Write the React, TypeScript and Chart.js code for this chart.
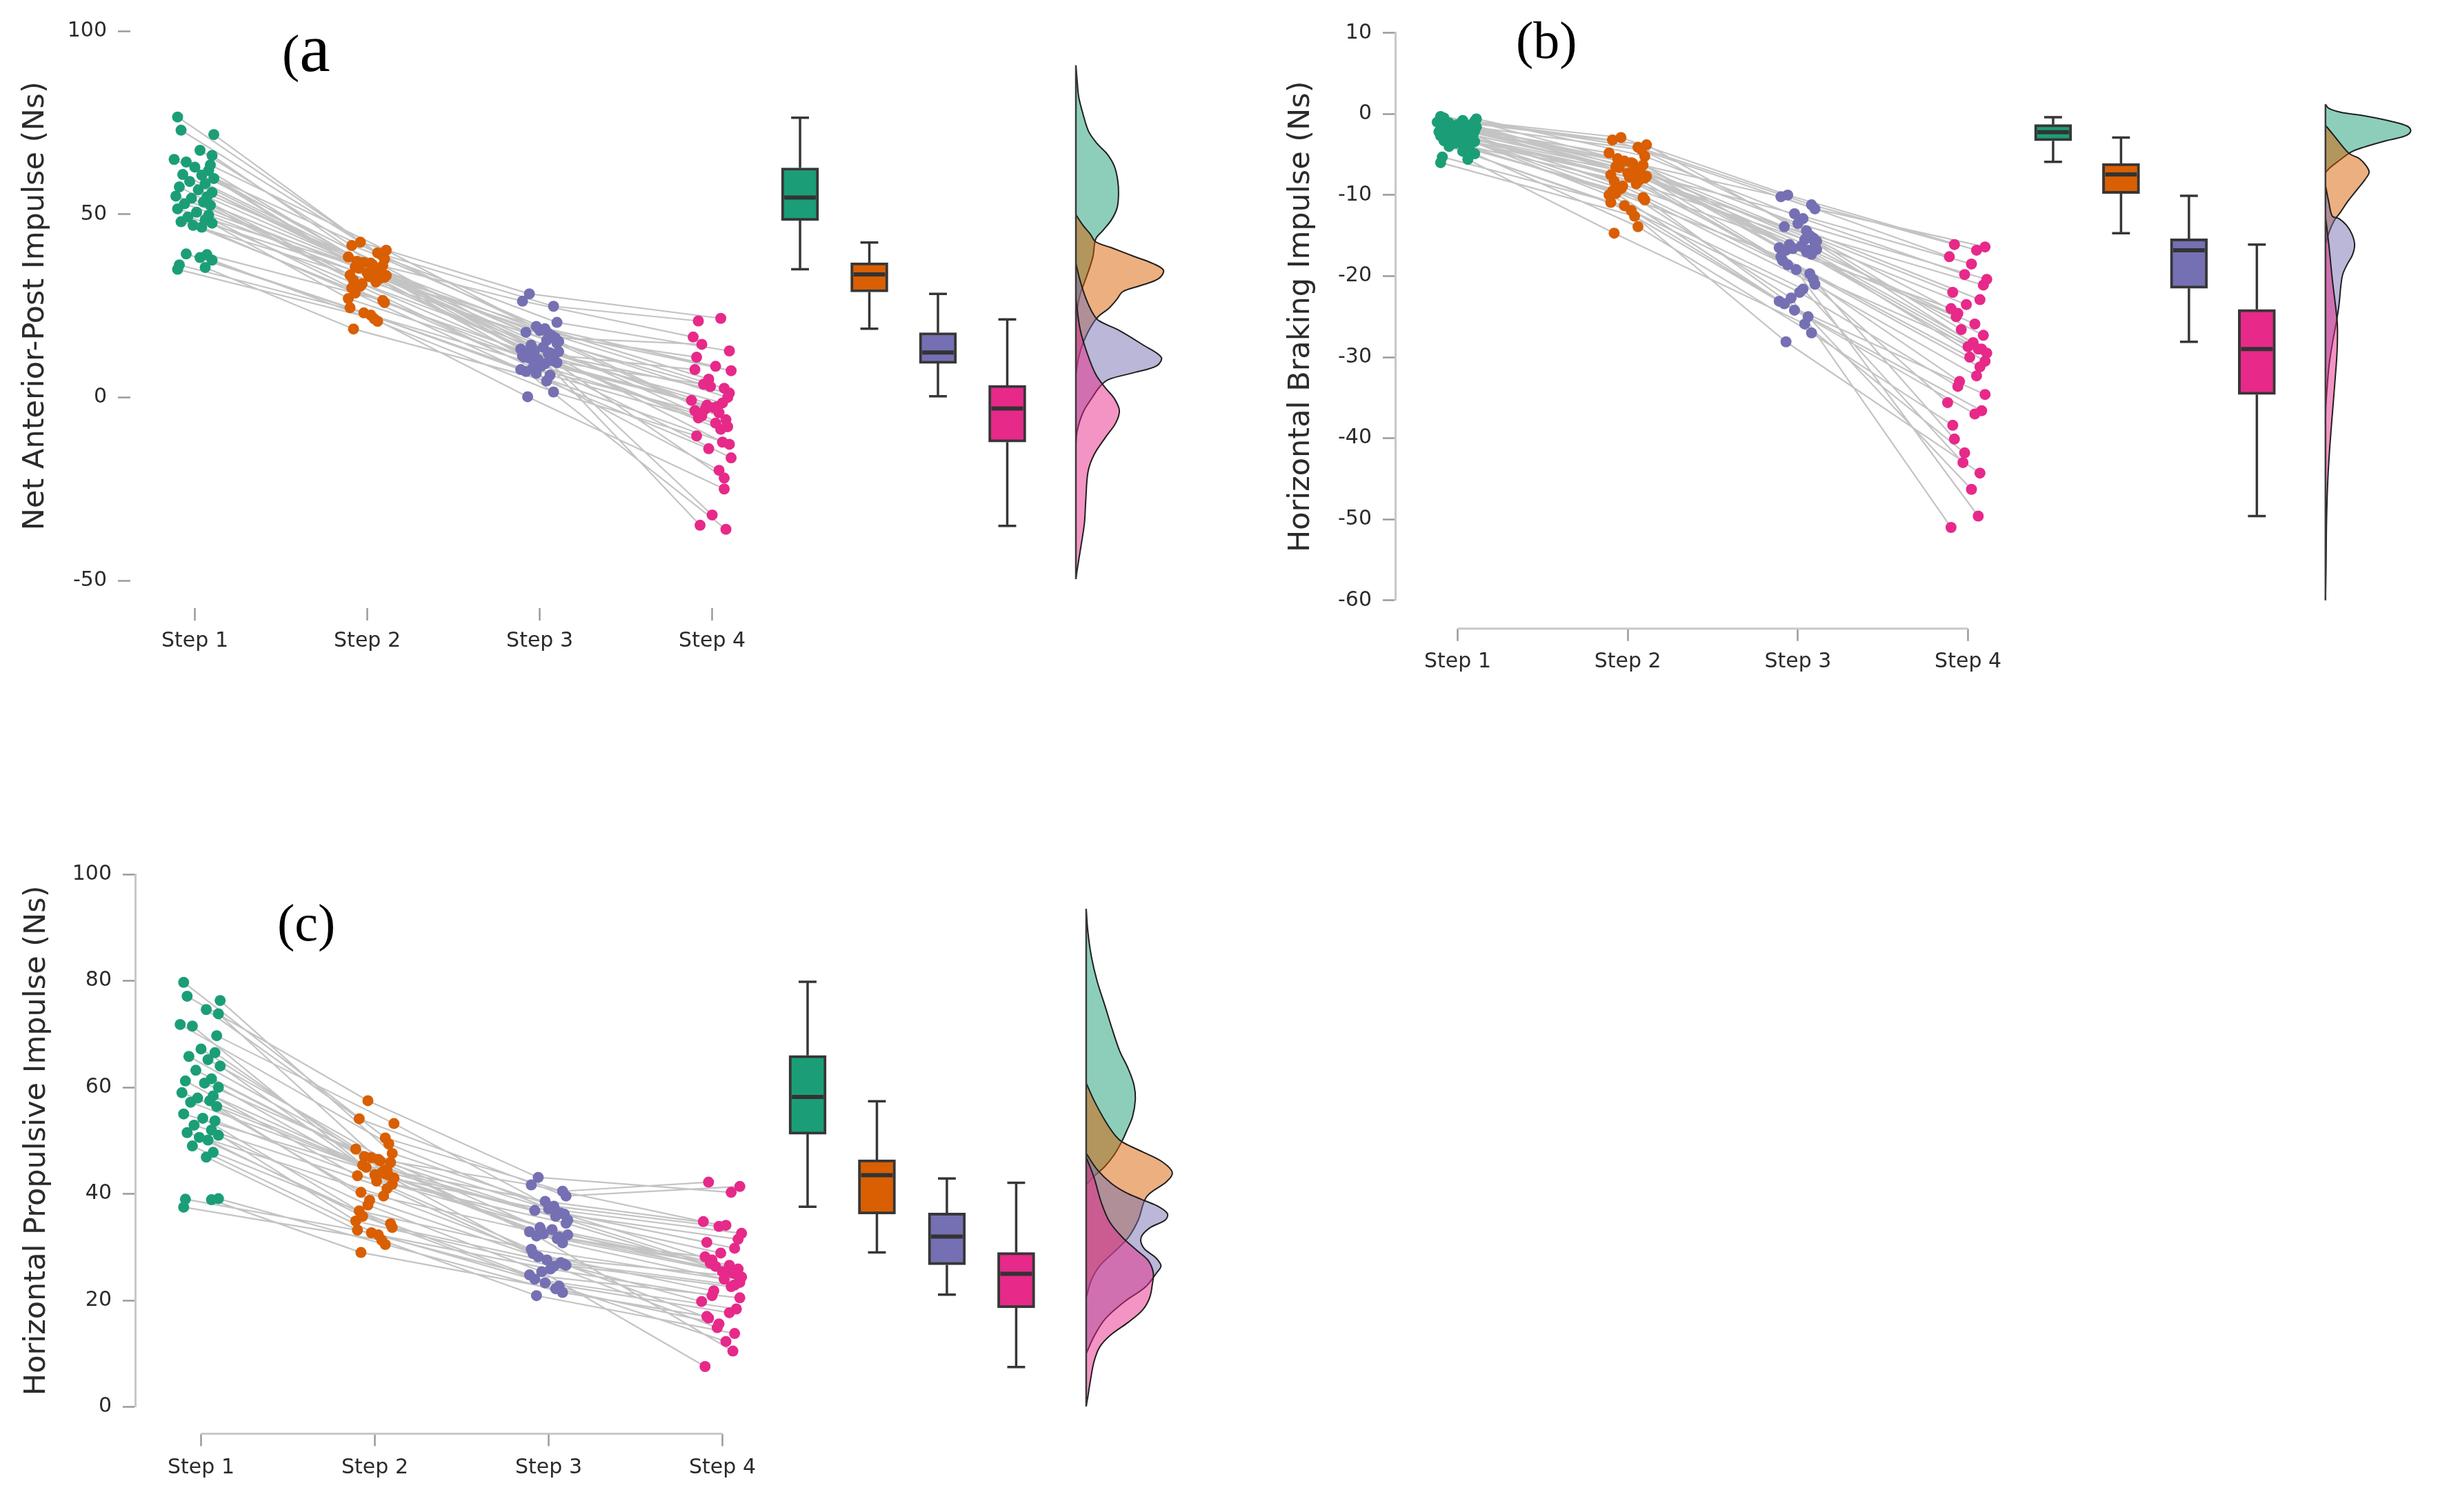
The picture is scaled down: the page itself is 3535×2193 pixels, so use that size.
import React, { useEffect, useRef } from "react";
import { Chart, registerables } from "chart.js";

Chart.register(...registerables);

// ---------------- data ----------------
const STEP_LABELS = ["Step 1", "Step 2", "Step 3", "Step 4"];

// horizontal jitter of each subject's point (in step units)
const JIT1 = [-0.1, -0.08, 0.11, 0.03, 0.1, -0.12, -0.05, 0.09, 0.0, 0.08, -0.07, 0.04, 0.11, -0.03, 0.06, -0.09, 0.02, 0.1, -0.11, 0.07, -0.02, 0.05, -0.06, 0.09, -0.1, 0.01, 0.08, -0.04, 0.06, -0.08, 0.1, -0.01, 0.04, -0.05, 0.07, 0.03, 0.1, -0.09, 0.06, -0.1];
const JIT2 = [0.06, -0.04, 0.1, -0.09, 0.02, 0.08, -0.07, 0.11, -0.02, 0.05, -0.11, 0.09, 0.0, -0.06, 0.07, -0.1, 0.03, 0.1, -0.05, 0.06, -0.08, 0.04, 0.11, -0.03, 0.08, -0.09, 0.01, 0.07, -0.11, 0.05, -0.04, 0.1, -0.07, 0.02, 0.09, -0.1, 0.06, -0.02, -0.08, 0.04];
const JIT3 = [0.08, -0.06, 0.03, 0.1, -0.1, 0.05, -0.02, 0.09, -0.08, 0.11, 0.0, -0.05, 0.07, -0.11, 0.04, 0.1, -0.07, 0.02, 0.08, -0.03, 0.06, -0.09, 0.11, -0.01, 0.05, -0.1, 0.09, -0.06, 0.03, 0.07, -0.04, 0.1, -0.08, 0.01, 0.06, -0.11, 0.08, -0.02, 0.04, -0.07];
const JIT4 = [-0.08, 0.05, -0.02, 0.1, -0.11, 0.07, 0.02, -0.06, 0.09, -0.04, 0.11, 0.0, -0.09, 0.06, -0.01, 0.08, -0.1, 0.04, 0.1, -0.07, 0.03, -0.05, 0.09, -0.12, 0.06, 0.01, -0.08, 0.11, -0.03, 0.07, -0.1, 0.05, 0.08, -0.06, 0.02, 0.1, -0.09, 0.04, -0.02, 0.07];

// (a) Net Anterior-Post Impulse
const A_STEP1 = [76.6, 73.0, 71.8, 67.5, 66.1, 65.0, 64.3, 63.5, 62.9, 62.0, 60.9, 60.7, 59.8, 59.0, 58.4, 57.5, 56.7, 56.0, 55.0, 54.8, 54.4, 53.4, 52.9, 52.5, 51.5, 50.6, 49.8, 49.3, 48.5, 48.0, 47.6, 47.0, 46.5, 39.2, 39.0, 38.2, 37.5, 36.2, 35.5, 35.0];
const A_STEP2 = [39.5, 42.4, 37.8, 41.5, 36.7, 39.0, 35.6, 40.2, 36.9, 34.7, 38.4, 36.0, 34.0, 37.2, 35.0, 33.4, 36.3, 32.8, 35.3, 34.2, 32.0, 34.5, 33.3, 31.0, 33.8, 29.9, 33.0, 32.4, 27.0, 31.5, 30.4, 25.9, 28.5, 22.5, 26.5, 24.5, 20.8, 23.1, 18.7, 21.5];
const A_STEP3 = [24.9, 28.3, 18.8, 20.5, 26.3, 17.5, 19.4, 16.3, 17.8, 15.3, 18.3, 14.3, 16.9, 13.2, 15.6, 14.8, 12.4, 13.7, 11.7, 12.8, 12.2, 11.0, 12.5, 10.4, 11.9, 11.3, 9.8, 10.7, 9.2, 10.1, 8.1, 9.5, 7.1, 8.6, 6.1, 7.6, 1.5, 6.6, 4.5, 0.2];
const A_STEP4 = [20.9, 21.6, 5.0, 12.7, 16.5, 2.5, 8.5, 14.5, 0.0, -3.2, 7.3, -32.1, 11.0, -1.5, 3.0, -6.1, 7.6, -4.2, 1.2, -34.9, -2.5, 3.6, -8.0, -0.8, -12.2, -2.8, -5.6, -16.5, -2.1, -22.0, -3.6, -8.7, -36.0, -5.0, -7.0, -12.8, -10.5, -19.9, -14.0, -25.0];
const A_BOX_MAX = [76.4, 42.3, 28.3, 21.3];
const A_BOX_Q3 = [62.7, 36.8, 17.7, 3.3];
const A_BOX_MED = [54.6, 33.6, 12.3, -3.0];
const A_BOX_Q1 = [48.3, 28.8, 9.3, -12.2];
const A_BOX_MIN = [35.0, 18.8, 0.3, -35.1];
// density curves: [value, density width]
const A_DENS_1 = [[90.7, 0], [85.9, 2.1], [82.1, 4.1], [77.4, 10.4], [72.6, 18.7], [69.3, 31.1], [66.5, 45.6], [63.2, 56], [59.4, 60.9], [55.6, 62.2], [51.8, 60.1], [48.5, 51.8], [45.6, 39.4], [43.3, 29], [38.5, 24.9], [34.7, 18.7], [31.4, 12.4], [28.1, 6.2], [24.3, 2.1], [20.5, 0]];
const A_DENS_2 = [[49.9, 0], [47.0, 10.4], [44.7, 20.7], [42.5, 29], [40.9, 51.8], [38.5, 85], [36.6, 112], [34.7, 127.7], [32.4, 120.2], [30.5, 93.3], [28.9, 68.4], [26.7, 59.3], [24.3, 47.7], [22.2, 33.2], [19.6, 22.8], [15.8, 12.4], [11.0, 4.1], [6.3, 0]];
const A_DENS_3 = [[36.6, 0], [31.9, 6.2], [27.1, 14.5], [22.9, 24.9], [21.0, 33.2], [18.2, 64.2], [14.4, 97.4], [11.0, 124.4], [8.7, 118.1], [6.8, 85], [4.9, 47.7], [3.0, 35.2], [-0.3, 22.8], [-4.1, 10.4], [-8.9, 2.1], [-12.7, 0]];
const A_DENS_4 = [[27.1, 0], [18.6, 6.2], [12.0, 16.6], [6.3, 29], [2.5, 43.5], [-0.3, 56], [-3.6, 63.4], [-7.0, 58], [-10.8, 43.5], [-15.5, 26.9], [-20.2, 17.8], [-27.8, 14.5], [-34.4, 12.4], [-41.1, 7], [-46.8, 2.1], [-49.6, 0]];

// (b) Horizontal Braking Impulse
const B_STEP1 = [-0.3, -0.5, -0.6, -0.8, -0.9, -1.0, -1.1, -1.2, -1.3, -1.3, -1.4, -1.5, -1.6, -1.7, -1.8, -1.9, -2.0, -2.1, -2.2, -2.2, -2.3, -2.4, -2.5, -2.6, -2.7, -2.8, -2.9, -3.0, -3.2, -3.3, -3.4, -3.6, -3.8, -4.0, -4.3, -4.6, -4.9, -5.3, -5.6, -6.0];
const B_STEP2 = [-4.1, -2.9, -5.2, -3.2, -6.0, -4.4, -6.5, -3.8, -5.8, -6.9, -4.8, -6.3, -7.3, -5.5, -6.8, -7.5, -6.1, -7.9, -6.6, -7.2, -8.3, -7.0, -7.7, -8.9, -7.4, -9.5, -7.8, -8.1, -10.0, -8.6, -9.2, -10.6, -9.8, -11.9, -10.3, -10.9, -13.9, -11.3, -14.7, -12.6];
const B_STEP3 = [-11.2, -10.0, -12.9, -11.7, -10.2, -14.4, -12.3, -15.3, -13.9, -15.7, -13.5, -16.1, -15.0, -16.5, -15.5, -15.9, -16.8, -16.3, -17.3, -16.6, -16.8, -18.1, -16.7, -19.2, -17.0, -17.6, -20.4, -18.6, -21.6, -19.7, -22.7, -21.0, -23.4, -22.0, -25.0, -23.1, -27.0, -24.2, -25.9, -28.1];
const B_STEP4 = [-16.1, -16.8, -19.8, -16.4, -17.6, -22.9, -18.5, -24.6, -21.1, -26.6, -20.4, -28.7, -22.0, -49.6, -23.5, -29.0, -24.0, -25.9, -30.5, -25.0, -28.2, -33.0, -27.3, -35.6, -29.0, -30.0, -40.1, -29.5, -43.0, -31.2, -51.0, -32.3, -36.6, -33.6, -46.3, -34.6, -38.4, -37.0, -41.8, -44.3];
const B_BOX_MAX = [-0.4, -2.9, -10.1, -16.1];
const B_BOX_Q3 = [-1.3, -6.1, -15.4, -24.1];
const B_BOX_MED = [-2.25, -7.45, -16.8, -29.0];
const B_BOX_Q1 = [-3.3, -9.8, -21.5, -34.6];
const B_BOX_MIN = [-5.9, -14.7, -28.1, -49.6];
const B_DENS_1 = [[1.2, 0], [0.7, 4.9], [0.2, 23.1], [-0.2, 55.5], [-0.9, 96], [-1.5, 119.5], [-2.1, 124.3], [-2.7, 116.2], [-3.3, 87.9], [-4.1, 55.5], [-4.7, 37.3], [-5.8, 19], [-6.6, 6.9], [-7.2, 0]];
const B_DENS_2 = [[-1.4, 0], [-2.5, 10.9], [-3.8, 23.1], [-4.9, 35.2], [-5.5, 49.4], [-6.4, 59.5], [-7.2, 63.6], [-8.1, 57.5], [-9.4, 45.4], [-10.7, 33.2], [-12.2, 21.1], [-13.1, 13], [-14.4, 6.1], [-16.1, 0]];
const B_DENS_3 = [[-8.8, 0], [-10.9, 4.9], [-12.6, 10.1], [-12.9, 19.8], [-13.7, 30.4], [-14.8, 38.5], [-16.1, 42.5], [-17.4, 39.3], [-18.5, 32], [-19.8, 25.1], [-21.3, 22.3], [-23.5, 19.8], [-25.7, 15.8], [-28.3, 10.1], [-31.3, 4.9], [-35.7, 0.8], [-38.1, 0]];
const B_DENS_4 = [[-12.7, 0], [-16.1, 4.9], [-20.5, 10.1], [-23.9, 15], [-26.1, 17.4], [-29.2, 17], [-32.6, 14.2], [-36.1, 10.9], [-40.4, 6.9], [-44.8, 3.6], [-50.0, 1.6], [-56.1, 0.8], [-60.0, 0]];

// (c) Horizontal Propulsive Impulse
const C_STEP1 = [79.7, 77.1, 76.3, 74.6, 73.8, 71.8, 71.5, 69.7, 67.2, 66.5, 65.8, 65.2, 64.0, 63.2, 61.6, 61.2, 60.8, 60.0, 59.0, 58.4, 58.0, 57.5, 57.2, 56.4, 55.0, 54.2, 53.7, 52.9, 52.0, 51.5, 51.0, 50.6, 50.1, 49.0, 47.8, 46.9, 39.1, 39.0, 38.9, 37.5];
const C_STEP2 = [50.5, 57.5, 47.6, 54.1, 46.5, 49.4, 45.4, 53.2, 46.8, 44.3, 48.4, 45.9, 43.6, 47.0, 44.6, 43.4, 46.2, 41.8, 45.0, 43.8, 40.3, 44.0, 43.0, 38.8, 43.5, 36.8, 42.4, 41.0, 34.9, 39.6, 37.9, 33.7, 35.8, 32.3, 34.4, 33.2, 30.5, 32.7, 29.0, 31.3];
const C_STEP3 = [40.5, 43.1, 37.7, 39.6, 41.7, 36.6, 38.6, 36.2, 36.9, 35.1, 37.2, 33.7, 36.4, 32.9, 35.8, 34.5, 32.1, 33.3, 30.8, 32.5, 31.9, 28.8, 32.3, 27.6, 31.6, 29.6, 26.8, 28.2, 26.4, 27.1, 25.4, 26.6, 24.0, 25.9, 22.7, 24.8, 21.5, 23.3, 22.2, 20.9];
const C_STEP4 = [42.2, 40.3, 33.9, 41.4, 34.8, 29.8, 34.1, 27.6, 31.5, 26.4, 32.6, 25.4, 30.9, 10.5, 28.9, 24.9, 28.2, 26.6, 23.4, 27.0, 25.6, 21.8, 25.9, 19.8, 25.1, 24.0, 16.7, 24.4, 14.9, 22.9, 7.6, 22.6, 18.4, 20.9, 12.3, 20.5, 17.0, 17.7, 15.6, 13.8];
const C_BOX_MAX = [79.8, 57.4, 42.9, 42.1];
const C_BOX_Q3 = [66.0, 46.4, 36.4, 29.0];
const C_BOX_MED = [58.2, 43.5, 32.0, 25.0];
const C_BOX_Q1 = [51.2, 36.2, 26.7, 18.6];
const C_BOX_MIN = [37.6, 29.0, 21.1, 7.5];
const C_DENS_1 = [[93.5, 0], [89.2, 2.5], [84.6, 7.5], [80.0, 15.8], [75.3, 27.4], [70.7, 38.5], [66.8, 48.9], [63.5, 61.3], [60.5, 69.6], [57.8, 71.7], [54.5, 67.6], [51.9, 59.3], [49.9, 52.2], [47.3, 40.6], [45.0, 26.1], [43.3, 11.6], [41.7, 0]];
const C_DENS_2 = [[60.8, 0], [57.5, 11.6], [53.6, 28.2], [50.9, 42.7], [49.7, 53.1], [47.9, 82.1], [46.0, 111.1], [44.0, 125.6], [42.3, 117.3], [39.5, 88.3], [35.1, 75.9], [31.8, 61.3], [29.1, 40.6], [26.5, 19.9], [23.8, 7.5], [20.5, 0]];
const C_DENS_3 = [[47.6, 0], [44.6, 15.8], [42.0, 36.5], [40.3, 57.2], [39.0, 80], [37.8, 102.8], [36.3, 118.5], [35.1, 115.2], [33.6, 92.4], [31.8, 80], [29.8, 84.1], [28.1, 100.7], [26.5, 109], [25.2, 102.8], [22.5, 86.2], [19.9, 57.2], [16.6, 28.2], [13.3, 11.6], [10.0, 0]];
const C_DENS_4 = [[46.9, 0], [43.0, 11.6], [38.4, 22], [34.7, 34.4], [31.8, 53.1], [29.4, 73.8], [27.5, 90.4], [25.2, 97.8], [23.2, 96.6], [20.5, 92.4], [18.2, 82.1], [15.9, 61.3], [13.6, 36.5], [11.3, 19.9], [8.6, 11.6], [5.3, 6.6], [2.0, 2.5], [0.1, 0]];

// ---------------- styles ----------------
const COLORS = ["#1b9e77", "#d95f02", "#7570b3", "#e7298a"];
const FILLS = ["rgba(27,158,119,0.5)", "rgba(217,95,2,0.5)", "rgba(117,112,179,0.5)", "rgba(231,41,138,0.5)"];
const FONT = "'DejaVu Sans', 'Verdana', sans-serif";
const TEXT = "#2b2b2b";
const TICK_COLOR = "#9a9a9a";
const AXIS_COLOR = "#c8c8c8";

type PanelDef = {
  key: string;
  left: number; top: number; width: number; height: number;
  chartLeft: number; chartTop: number; chartBottom: number;
  yMin: number; yMax: number; yTicks: number[];
  title: string; titleCenterX: number;
  step1Px: number; stepPx: number; boxPx: number[]; densBasePx: number;
  axisGap: number; axisLines: boolean; xLabelPad: number;
  steps: number[][];
  boxMin: number[]; boxQ1: number[]; boxMed: number[]; boxQ3: number[]; boxMax: number[];
  dens: number[][][];
};

const PANELS: PanelDef[] = [
  {
    key: "a", left: 0, top: 0, width: 1760, height: 1000,
    chartLeft: 189, chartTop: 45.4, chartBottom: 842,
    yMin: -50, yMax: 100, yTicks: [100, 50, 0, -50],
    title: "Net Anterior-Post Impulse (Ns)", titleCenterX: 52,
    step1Px: 283, stepPx: 251.3, boxPx: [1165, 1266, 1366, 1467], densBasePx: 1567,
    axisGap: 40, axisLines: false, xLabelPad: 12,
    steps: [A_STEP1, A_STEP2, A_STEP3, A_STEP4],
    boxMin: A_BOX_MIN, boxQ1: A_BOX_Q1, boxMed: A_BOX_MED, boxQ3: A_BOX_Q3, boxMax: A_BOX_MAX,
    dens: [A_DENS_1, A_DENS_2, A_DENS_3, A_DENS_4],
  },
  {
    key: "b", left: 1840, top: 0, width: 1695, height: 1000,
    chartLeft: 2023, chartTop: 47.8, chartBottom: 870.8,
    yMin: -60, yMax: 10, yTicks: [10, 0, -10, -20, -30, -40, -50, -60],
    title: "Horizontal Braking Impulse (Ns)", titleCenterX: 1887,
    step1Px: 2114, stepPx: 248, boxPx: [2982, 3081, 3180, 3279], densBasePx: 3379,
    axisGap: 41, axisLines: true, xLabelPad: 12,
    steps: [B_STEP1, B_STEP2, B_STEP3, B_STEP4],
    boxMin: B_BOX_MIN, boxQ1: B_BOX_Q1, boxMed: B_BOX_MED, boxQ3: B_BOX_Q3, boxMax: B_BOX_MAX,
    dens: [B_DENS_1, B_DENS_2, B_DENS_3, B_DENS_4],
  },
  {
    key: "c", left: 0, top: 1230, width: 1760, height: 963,
    chartLeft: 196, chartTop: 1268, chartBottom: 2040.7,
    yMin: 0, yMax: 100, yTicks: [100, 80, 60, 40, 20, 0],
    title: "Horizontal Propulsive Impulse (Ns)", titleCenterX: 53.6,
    step1Px: 292, stepPx: 253.3, boxPx: [1176, 1277, 1379, 1480], densBasePx: 1582,
    axisGap: 38.7, axisLines: true, xLabelPad: 14,
    steps: [C_STEP1, C_STEP2, C_STEP3, C_STEP4],
    boxMin: C_BOX_MIN, boxQ1: C_BOX_Q1, boxMed: C_BOX_MED, boxQ3: C_BOX_Q3, boxMax: C_BOX_MAX,
    dens: [C_DENS_1, C_DENS_2, C_DENS_3, C_DENS_4],
  },
];

// panel letters: opening text, large letter, closing text
const PANEL_LABELS = [
  { open: "(", letter: "a", close: "", letterSize: 100, left: 409, top: 39 },
  { open: "(", letter: "b", close: ")", letterSize: 76, left: 2198, top: 19.5 },
  { open: "(", letter: "c", close: ")", letterSize: 76, left: 402, top: 1299.5 },
];

// x-axis "range frame" line drawn from Step 1 to Step 4
const rangeFramePlugin = {
  id: "rangeFrame",
  afterDraw(chart: any, _args: any, opts: any) {
    if (!opts || !opts.show) return;
    const { ctx, chartArea, scales } = chart;
    const x = scales.x;
    const y = chartArea.bottom + opts.gap;
    ctx.save();
    ctx.strokeStyle = opts.color;
    ctx.lineWidth = opts.width;
    ctx.beginPath();
    ctx.moveTo(x.getPixelForValue(1), y);
    ctx.lineTo(x.getPixelForValue(4), y);
    ctx.stroke();
    ctx.restore();
  },
};

function makeConfig(p: PanelDef): any {
  const xv = (px: number) => 1 + (px - p.step1Px) / p.stepPx;
  const xMin = xv(p.chartLeft);
  const xMax = xv(p.left + p.width);
  const boxX = p.boxPx.map(xv);
  const medHalf = 23 / p.stepPx;
  const capHalf = 13 / p.stepPx;
  const densBase = xv(p.densBasePx);
  const jit = [JIT1, JIT2, JIT3, JIT4];
  const n = p.steps[0].length;

  const datasets: any[] = [];

  // subject lines
  const lineData: any[] = [];
  for (let i = 0; i < n; i++) {
    for (let s = 0; s < 4; s++) lineData.push({ x: s + 1 + jit[s][i], y: p.steps[s][i] });
    lineData.push({ x: 4, y: null });
  }
  datasets.push({
    type: "line", data: lineData, borderColor: "#c4c4c4", borderWidth: 2.2,
    pointRadius: 0, spanGaps: false, fill: false, order: 10,
  });

  // points
  p.steps.forEach((vals, s) => {
    datasets.push({
      type: "scatter", label: STEP_LABELS[s],
      data: vals.map((v, i) => ({ x: s + 1 + jit[s][i], y: v })),
      backgroundColor: COLORS[s], borderColor: COLORS[s], pointRadius: 8, pointBorderWidth: 0, order: 0,
    });
  });

  // whiskers
  const wData: any[] = [];
  boxX.forEach((bx, k) => {
    wData.push({ x: bx, y: p.boxQ3[k] }, { x: bx, y: p.boxMax[k] }, { x: bx, y: null });
    wData.push({ x: bx - capHalf, y: p.boxMax[k] }, { x: bx + capHalf, y: p.boxMax[k] }, { x: bx, y: null });
    wData.push({ x: bx, y: p.boxQ1[k] }, { x: bx, y: p.boxMin[k] }, { x: bx, y: null });
    wData.push({ x: bx - capHalf, y: p.boxMin[k] }, { x: bx + capHalf, y: p.boxMin[k] }, { x: bx, y: null });
  });
  datasets.push({
    type: "line", data: wData, borderColor: "#363636", borderWidth: 3.5,
    pointRadius: 0, spanGaps: false, fill: false, order: 3,
  });

  // boxes
  datasets.push({
    type: "bar",
    data: boxX.map((bx, k) => ({ x: bx, y: [p.boxQ1[k], p.boxQ3[k]] })),
    backgroundColor: COLORS, borderColor: "#363636", borderWidth: 4, borderSkipped: false,
    barThickness: 54, order: 2,
  });

  // medians
  const mData: any[] = [];
  boxX.forEach((bx, k) => {
    mData.push({ x: bx - medHalf, y: p.boxMed[k] }, { x: bx + medHalf, y: p.boxMed[k] }, { x: bx, y: null });
  });
  datasets.push({
    type: "line", data: mData, borderColor: "#333333", borderWidth: 6,
    pointRadius: 0, spanGaps: false, fill: false, order: 1,
  });

  // densities (half violins)
  p.dens.forEach((d, k) => {
    datasets.push({
      type: "line", indexAxis: "y",
      data: d.map(([v, w]) => ({ x: densBase + w / p.stepPx, y: v })),
      fill: "shape", backgroundColor: FILLS[k], borderColor: "#1f1f1f", borderWidth: 2,
      pointRadius: 0, tension: 0.35, order: 8 - k,
    });
  });
  let dTop = -Infinity, dBot = Infinity;
  p.dens.forEach((d) => d.forEach(([v]) => { dTop = Math.max(dTop, v); dBot = Math.min(dBot, v); }));
  datasets.push({
    type: "line", data: [{ x: densBase, y: dTop }, { x: densBase, y: dBot }],
    borderColor: "#3a3a3a", borderWidth: 2.5, pointRadius: 0, fill: false, order: 3,
  });

  return {
    type: "scatter",
    data: { datasets },
    plugins: [rangeFramePlugin],
    options: {
      responsive: false,
      animation: false,
      devicePixelRatio: 1,
      events: [],
      layout: { padding: { top: p.chartTop - p.top, left: 0, right: 0, bottom: 0 } },
      plugins: {
        legend: { display: false },
        tooltip: { enabled: false },
        rangeFrame: { show: p.axisLines, gap: p.axisGap, color: AXIS_COLOR, width: 3 },
      },
      scales: {
        x: {
          type: "linear", position: "bottom", min: xMin, max: xMax, offset: false,
          afterBuildTicks: (s: any) => { s.ticks = [1, 2, 3, 4].map((v) => ({ value: v })); },
          afterFit: (s: any) => { s.height = p.top + p.height - p.chartBottom; },
          ticks: {
            callback: (v: any) => STEP_LABELS[Math.round(v) - 1] ?? "",
            font: { family: FONT, size: 30 }, color: TEXT, padding: p.xLabelPad,
            maxRotation: 0, autoSkip: false,
          },
          grid: {
            display: true, offset: false, drawOnChartArea: false, drawTicks: true,
            tickLength: p.axisGap + 18, tickWidth: 2.5, tickColor: TICK_COLOR,
            tickBorderDash: [0, p.axisGap, 18, 3000],
          },
          border: { display: false },
        },
        y: {
          type: "linear", position: "left", min: p.yMin, max: p.yMax, offset: false,
          afterBuildTicks: (s: any) => { s.ticks = p.yTicks.map((v) => ({ value: v })); },
          afterFit: (s: any) => { s.width = p.chartLeft - p.left; },
          ticks: { font: { family: FONT, size: 30 }, color: TEXT, padding: 16 },
          grid: { display: true, offset: false, drawOnChartArea: false, drawTicks: true, tickLength: 18, tickWidth: 2.5, tickColor: TICK_COLOR },
          border: { display: p.axisLines, color: AXIS_COLOR, width: 3 },
          title: {
            display: true, text: p.title, color: TEXT,
            font: { family: FONT, size: 43 },
            padding: { top: p.titleCenterX - p.left - 25.8, bottom: 0 },
          },
        },
      },
    },
  };
}

function PanelChart({ p }: { p: PanelDef }) {
  const ref = useRef<HTMLCanvasElement | null>(null);
  useEffect(() => {
    if (!ref.current) return;
    const chart = new Chart(ref.current, makeConfig(p));
    return () => chart.destroy();
  }, [p]);
  return (
    <canvas
      ref={ref}
      width={p.width}
      height={p.height}
      style={{ position: "absolute", left: p.left, top: p.top, width: p.width, height: p.height }}
    />
  );
}

export default function App() {
  return (
    <div style={{ position: "absolute", left: 0, top: 0, width: 3535, height: 2193, background: "#ffffff", overflow: "hidden" }}>
      {PANELS.map((p) => <PanelChart key={p.key} p={p} />)}
      {PANEL_LABELS.map((l) => (
        <div
          key={l.letter}
          style={{
            position: "absolute", left: l.left, top: l.top,
            fontFamily: "'Liberation Serif', 'Times New Roman', serif",
            fontSize: 76, fontWeight: 400, lineHeight: "76px", color: "#000", whiteSpace: "nowrap",
          }}
        >
          {l.open}
          <span style={{ fontSize: l.letterSize, lineHeight: 0 }}>{l.letter}</span>
          {l.close}
        </div>
      ))}
    </div>
  );
}
